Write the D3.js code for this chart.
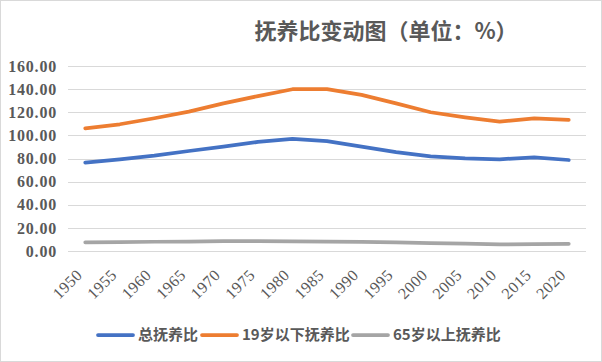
<!DOCTYPE html>
<html>
<head>
<meta charset="utf-8">
<script src="https://cdn.jsdelivr.net/npm/d3@7"></script>
<style>
  body { margin: 0; background: #fff; }
  svg { display: block; }
</style>
</head>
<body>
<svg id="chart" width="602" height="362"></svg>
<script>
var years = ['1950', '1955', '1960', '1965', '1970', '1975', '1980', '1985', '1990', '1995', '2000', '2005', '2010', '2015', '2020'];
var totalRatio = [76.4, 79.3, 82.4, 86.5, 90.2, 94.3, 96.9, 95.1, 90.2, 85.6, 81.9, 80.2, 79.3, 81.0, 78.7];
var youngRatio = [106.1, 109.6, 114.8, 120.5, 127.7, 134.0, 139.9, 140.0, 135.0, 127.7, 120.0, 115.6, 111.8, 114.8, 113.3];
var oldRatio = [7.5, 7.7, 8.0, 8.2, 8.5, 8.6, 8.4, 8.2, 7.9, 7.4, 6.8, 6.4, 5.7, 6.0, 6.2];
var yTicks = [0, 20, 40, 60, 80, 100, 120, 140, 160];

var series = [
  { name: '总抚养比', values: totalRatio, color: '#4472C4' },
  { name: '19岁以下抚养比', values: youngRatio, color: '#ED7D31' },
  { name: '65岁以上抚养比', values: oldRatio, color: '#A5A5A5' }
];

var svg = d3.select('#chart');
var serif = "'Liberation Serif', serif";
var cjk = "'Noto Sans CJK SC', sans-serif";
var textColor = '#595959';

svg.append('rect')
  .attr('x', 0.5).attr('y', 0.5)
  .attr('width', 601).attr('height', 361)
  .attr('fill', '#fff')
  .attr('stroke', '#d9d9d9');

var plotLeft = 68, plotRight = 586, plotTop = 66, plotBottom = 251;

var x = d3.scaleBand().domain(years).range([plotLeft, plotRight]);
var y = d3.scaleLinear().domain([0, 160]).range([plotBottom, plotTop]);

// gridlines
svg.append('g')
  .selectAll('line')
  .data(yTicks)
  .enter()
    .append('line')
      .attr('x1', plotLeft).attr('x2', plotRight)
      .attr('y1', function(d) { return Math.round(y(d)) + 0.5; })
      .attr('y2', function(d) { return Math.round(y(d)) + 0.5; })
      .attr('stroke', '#d9d9d9')
      .attr('stroke-width', 1);

// y axis labels
var yAxis = svg.append('g')
  .attr('transform', 'translate(' + (plotLeft - 11) + ',0)')
  .call(d3.axisLeft(y).tickValues(yTicks).tickSize(0).tickFormat(d3.format('.2f')));
yAxis.select('.domain').remove();
yAxis.selectAll('text')
  .attr('x', 0)
  .attr('fill', textColor)
  .style('font-family', serif)
  .style('font-size', '16px')
  .style('font-weight', 'bold')
  .style('letter-spacing', '0.8px');

// x axis labels, rotated
var xAxis = svg.append('g')
  .attr('transform', 'translate(0,' + plotBottom + ')')
  .call(d3.axisBottom(x).tickSize(0));
xAxis.select('.domain').remove();
xAxis.selectAll('text')
  .attr('fill', textColor)
  .style('font-family', serif)
  .style('font-size', '16px')
  .style('letter-spacing', '0.5px')
  .attr('text-anchor', 'end')
  .attr('dy', '0.35em')
  .attr('y', 0).attr('x', 0)
  .attr('transform', 'translate(-6,21) rotate(-45)');

// lines
var line = d3.line()
  .x(function(d, i) { return x(years[i]) + x.bandwidth() / 2; })
  .y(function(d) { return y(d); });

svg.append('g')
  .selectAll('path')
  .data(series)
  .enter()
    .append('path')
      .attr('d', function(s) { return line(s.values); })
      .attr('fill', 'none')
      .attr('stroke', function(s) { return s.color; })
      .attr('stroke-width', 3.75)
      .attr('stroke-linejoin', 'round')
      .attr('stroke-linecap', 'round');

// title
svg.append('text')
  .attr('x', 386).attr('y', 39)
  .attr('text-anchor', 'middle')
  .attr('fill', textColor)
  .style('font-family', cjk)
  .style('font-size', '22px')
  .style('font-weight', 'bold')
  .text('抚养比变动图（单位：%）');

// legend
var legendX = [98, 202, 353];
var legend = svg.append('g')
  .selectAll('g')
  .data(series)
  .enter()
    .append('g')
      .attr('transform', function(s, i) { return 'translate(' + legendX[i] + ',335)'; });
legend.append('line')
  .attr('x1', 0).attr('x2', 35)
  .attr('stroke', function(s) { return s.color; })
  .attr('stroke-width', 3.75)
  .attr('stroke-linecap', 'round');
legend.append('text')
  .attr('x', 40).attr('dy', '0.35em')
  .attr('fill', textColor)
  .style('font-family', cjk)
  .style('font-size', '15px')
  .style('font-weight', 'bold')
  .text(function(s) { return s.name; });
</script>
</body>
</html>
